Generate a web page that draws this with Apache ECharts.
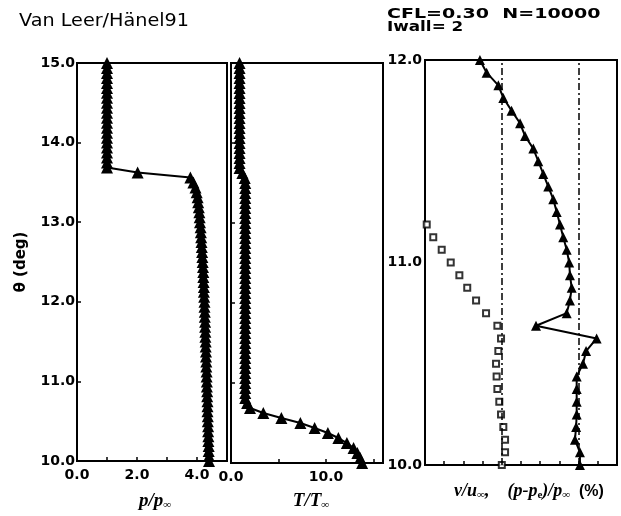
<!DOCTYPE html>
<html>
<head>
<meta charset="utf-8">
<script src="https://cdn.jsdelivr.net/npm/echarts@6/dist/echarts.min.js"></script>
<style>html,body{margin:0;padding:0;background:#fff}#c{width:621px;height:516px}</style>
</head>
<body>
<div id="c"></div>
<script>
// theta grid (deg), k = 0..80
const theta = [10.0,10.0625,10.125,10.1875,10.25,10.3125,10.375,10.4375,10.5,10.5625,10.625,10.6875,10.75,10.8125,10.875,10.9375,
11.0,11.0625,11.125,11.1875,11.25,11.3125,11.375,11.4375,11.5,11.5625,11.625,11.6875,11.75,11.8125,11.875,11.9375,
12.0,12.0625,12.125,12.1875,12.25,12.3125,12.375,12.4375,12.5,12.5625,12.625,12.6875,12.75,12.8125,12.875,12.9375,
13.0,13.0625,13.125,13.1875,13.25,13.3125,13.375,13.4375,13.5,13.5625,13.625,13.6875,13.75,13.8125,13.875,13.9375,
14.0,14.0625,14.125,14.1875,14.25,14.3125,14.375,14.4375,14.5,14.5625,14.625,14.6875,14.75,14.8125,14.875,14.9375,15.0];
// p / p_inf
const pRatio = [4.40,4.40,4.39,4.39,4.38,4.38,4.37,4.37,4.36,4.36,4.35,4.35,4.35,4.34,4.34,4.33,
4.33,4.32,4.32,4.31,4.31,4.30,4.30,4.29,4.29,4.28,4.28,4.27,4.27,4.26,4.26,4.25,
4.25,4.24,4.23,4.23,4.22,4.21,4.21,4.20,4.19,4.18,4.17,4.16,4.15,4.14,4.13,4.12,
4.10,4.09,4.08,4.06,4.04,4.02,3.99,3.95,3.88,3.78,2.02,1.0,1.0,1.0,1.0,1.0,
1.0,1.0,1.0,1.0,1.0,1.0,1.0,1.0,1.0,1.0,1.0,1.0,1.0,1.0,1.0,1.0,1.0];
// T / T_inf
const tRatio = [13.8,13.6,13.3,12.9,12.2,11.3,10.2,8.8,7.3,5.3,3.4,2.0,1.7,1.5,1.5,1.5,
1.5,1.5,1.5,1.5,1.5,1.5,1.5,1.5,1.5,1.5,1.5,1.5,1.5,1.5,1.5,1.5,
1.5,1.5,1.5,1.5,1.5,1.5,1.5,1.5,1.5,1.5,1.5,1.5,1.5,1.5,1.5,1.5,
1.5,1.5,1.5,1.5,1.5,1.5,1.5,1.5,1.5,1.45,1.2,0.9,0.9,0.9,0.9,0.9,
0.9,0.9,0.9,0.9,0.9,0.9,0.9,0.9,0.9,0.9,0.9,0.9,0.9,0.9,0.9,0.9,0.9];
// right panel (axis tick units, zero at the dash-dot lines), k = 0..32
const pDev = [0.07,0.07,-0.19,-0.13,-0.10,-0.10,-0.10,-0.10,0.23,0.39,0.94,-2.22,-0.62,-0.45,-0.36,-0.45,
-0.49,-0.62,-0.80,-0.97,-1.14,-1.32,-1.58,-1.84,-2.10,-2.36,-2.79,-3.05,-3.49,-3.92,-4.18,-4.79,-5.14];
const vRatio = [0,0.17,0.17,0.08,-0.04,-0.13,-0.23,-0.27,-0.30,-0.18,-0.04,-0.23,-0.82,-1.34,-1.80,-2.21,
-2.66,-3.13,-3.57,-3.91];
const yTicksLeft = [10,15,1];
const yTicksRight = [10,12,1];

const pair = (xs, ys) => xs.map((x, i) => [x, ys[i]]);
const FONT = 'DejaVu Sans';
const SERIF = 'Liberation Serif';
const lbl = {color:'#000', fontFamily:FONT, fontWeight:'bold', fontSize:14};
const frame = {show:true, borderColor:'#000', borderWidth:2, backgroundColor:'#fff'};
const tick = {show:true, inside:true, length:4, lineStyle:{color:'#000', width:1.5}};
const axLine = {show:true, onZero:false, lineStyle:{color:'#000', width:2}};
const dashDot = {color:'#000', width:1.5, type:[7,3,2,3]};
const richName = (fs) => ({
  i:{fontFamily:SERIF, fontStyle:'italic', fontWeight:'bold', fontSize:fs, color:'#000'},
  s:{fontFamily:SERIF, fontWeight:'bold', fontSize:Math.round(fs*0.6), color:'#000', padding:[8,0,0,0]},
  n:{fontFamily:'Liberation Sans', fontWeight:'bold', fontSize:fs-2, color:'#000'}
});

const chart = echarts.init(document.getElementById('c'), null, {renderer:'canvas'});
chart.setOption({
  animation:false,
  backgroundColor:'#fff',
  graphic:[
    {type:'text', x:19, y:13, scaleX:1.13, style:{text:'Van Leer/Hänel91', font:'normal 17px "DejaVu Sans"', fill:'#000'}},
    {type:'text', x:387, y:7, scaleX:1.36, style:{text:'CFL=0.30  N=10000', font:'bold 14px "DejaVu Sans"', fill:'#000'}},
    {type:'text', x:387, y:20, scaleX:1.2, style:{text:'Iwall= 2', font:'bold 14px "DejaVu Sans"', fill:'#000'}}
  ],
  grid:[
    Object.assign({left:77, top:63, width:150, height:407}, frame),
    Object.assign({left:231, top:63, width:152, height:407}, frame),
    Object.assign({left:425, top:60, width:192, height:405}, frame)
  ],
  xAxis:[
    {gridIndex:0, type:'value', min:0, max:5, interval:1, axisLine:axLine, axisTick:tick, splitLine:{show:false},
     axisLabel:Object.assign({margin:7, formatter:v => (v % 2 === 0 && v < 5) ? v.toFixed(1) : ''}, lbl),
     name:'{i|p/p}{s|∞}', nameLocation:'middle', nameGap:31,
     nameTextStyle:{padding:[0,0,0,6], rich:richName(19)}},
    {gridIndex:1, type:'value', min:0, max:16, interval:5, axisLine:axLine, axisTick:tick, splitLine:{show:false},
     axisLabel:Object.assign({margin:7, formatter:v => (v === 0 || v === 10) ? v.toFixed(1) : ''}, lbl),
     name:'{i|T/T}{s|∞}', nameLocation:'middle', nameGap:29,
     nameTextStyle:{padding:[0,0,0,8], rich:richName(19)}},
    {gridIndex:2, type:'value', min:-4, max:6, interval:1, axisLine:axLine, axisTick:tick, splitLine:{show:false},
     axisLabel:{show:false},
     name:'{i|v/u}{s|∞}{i|,    (p-p}{s|e}{i|)/p}{s|∞}{n|  (%)}', nameLocation:'middle', nameGap:17,
     nameTextStyle:{padding:[0,0,0,16], rich:richName(18)}},
    {gridIndex:2, type:'value', min:-8, max:2, show:false}
  ],
  yAxis:[
    {gridIndex:0, type:'value', min:yTicksLeft[0], max:yTicksLeft[1], interval:yTicksLeft[2], axisLine:axLine, axisTick:tick, splitLine:{show:false},
     axisLabel:Object.assign({margin:2, formatter:v => v.toFixed(1)}, lbl),
     name:'θ (deg)', nameLocation:'middle', nameGap:48, nameRotate:90,
     nameTextStyle:{fontFamily:FONT, fontWeight:'bold', fontSize:15, color:'#000'}},
    {gridIndex:1, type:'value', min:yTicksLeft[0], max:yTicksLeft[1], interval:yTicksLeft[2], axisLine:axLine, axisTick:tick, splitLine:{show:false}, axisLabel:{show:false}},
    {gridIndex:2, type:'value', min:yTicksRight[0], max:yTicksRight[1], interval:yTicksRight[2], axisLine:axLine, axisTick:{show:false}, splitLine:{show:false},
     axisLabel:Object.assign({margin:3, formatter:v => v.toFixed(1)}, lbl)}
  ],
  series:[
    {type:'line', xAxisIndex:0, yAxisIndex:0, data:pair(pRatio, theta), symbol:'triangle', symbolSize:12,
     itemStyle:{color:'#000'}, lineStyle:{color:'#000', width:2}},
    {type:'line', xAxisIndex:1, yAxisIndex:1, data:pair(tRatio, theta), symbol:'triangle', symbolSize:12,
     itemStyle:{color:'#000'}, lineStyle:{color:'#000', width:2}},
    {type:'scatter', xAxisIndex:2, yAxisIndex:2, data:pair(vRatio, theta.slice(0, vRatio.length)), symbol:'rect', symbolSize:6,
     itemStyle:{color:'#fff', borderColor:'#000', borderWidth:2},
     markLine:{silent:true, symbol:'none', label:{show:false}, lineStyle:dashDot, data:[{xAxis:0}]}},
    {type:'line', xAxisIndex:3, yAxisIndex:2, data:pair(pDev, theta.slice(0, pDev.length)), symbol:'triangle', symbolSize:10,
     itemStyle:{color:'#000'}, lineStyle:{color:'#000', width:2},
     markLine:{silent:true, symbol:'none', label:{show:false}, lineStyle:dashDot, data:[{xAxis:0}]}}
  ]
});
</script>
</body>
</html>
